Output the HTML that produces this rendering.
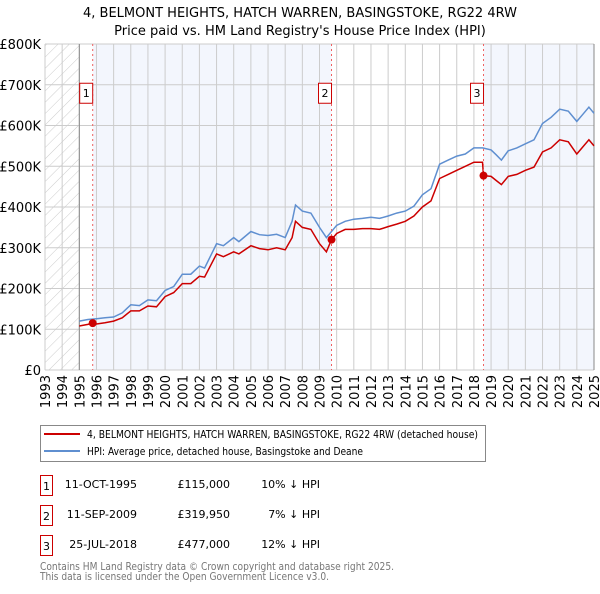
<!DOCTYPE html>
<html><head><meta charset="utf-8"><style>
body{margin:0;background:#fff;font-family:"DejaVu Sans","Liberation Sans",sans-serif;}
svg text{font-family:"DejaVu Sans","Liberation Sans",sans-serif;}
</style></head><body>
<svg id="chart" width="600" height="590" viewBox="0 0 600 590" xmlns="http://www.w3.org/2000/svg">
<defs><pattern id="hatch" width="8" height="8" patternUnits="userSpaceOnUse" patternTransform="rotate(45)"><line x1="0" y1="0" x2="0" y2="8" stroke="#ccc" stroke-width="1"/></pattern></defs>
<text x="300" y="17" text-anchor="middle" font-size="13" fill="#000">4, BELMONT HEIGHTS, HATCH WARREN, BASINGSTOKE, RG22 4RW</text>
<text x="300" y="35" text-anchor="middle" font-size="13" fill="#000">Price paid vs. HM Land Registry's House Price Index (HPI)</text>
<g id="bg"></g><g id="grid"></g><g id="axes"></g><g id="series"></g><g id="marks"></g>
<g>
<rect x="40.5" y="425.5" width="445" height="36" fill="#fff" stroke="#888"/>
<line x1="44" y1="434" x2="80" y2="434" stroke="#cc0000" stroke-width="2"/>
<text x="87" y="438" font-size="11" textLength="391" lengthAdjust="spacingAndGlyphs">4, BELMONT HEIGHTS, HATCH WARREN, BASINGSTOKE, RG22 4RW (detached house)</text>
<line x1="44" y1="451" x2="80" y2="451" stroke="#5f8fd0" stroke-width="2"/>
<text x="87" y="455" font-size="11" textLength="276" lengthAdjust="spacingAndGlyphs">HPI: Average price, detached house, Basingstoke and Deane</text>
</g>
<g font-size="11">
<rect x="40.5" y="475.5" width="12" height="20" fill="#fff" stroke="#cc0000"/><text x="46.5" y="490" text-anchor="middle">1</text>
<text x="137" y="488" text-anchor="end">11-OCT-1995</text><text x="230" y="488" text-anchor="end">£115,000</text><text x="320" y="488" text-anchor="end">10% ↓ HPI</text>
<rect x="40.5" y="505.5" width="12" height="20" fill="#fff" stroke="#cc0000"/><text x="46.5" y="520" text-anchor="middle">2</text>
<text x="137" y="518" text-anchor="end">11-SEP-2009</text><text x="230" y="518" text-anchor="end">£319,950</text><text x="320" y="518" text-anchor="end">7% ↓ HPI</text>
<rect x="40.5" y="535.5" width="12" height="20" fill="#fff" stroke="#cc0000"/><text x="46.5" y="550" text-anchor="middle">3</text>
<text x="137" y="548" text-anchor="end">25-JUL-2018</text><text x="230" y="548" text-anchor="end">£477,000</text><text x="320" y="548" text-anchor="end">12% ↓ HPI</text>
</g>
<text x="40" y="570" font-size="11" fill="#777" textLength="354" lengthAdjust="spacingAndGlyphs">Contains HM Land Registry data © Crown copyright and database right 2025.</text>
<text x="40" y="580" font-size="11" fill="#777" textLength="289" lengthAdjust="spacingAndGlyphs">This data is licensed under the Open Government Licence v3.0.</text>
</svg>
<script>
const hpiYears=[1995,1995.5,1996,1996.5,1997,1997.5,1998,1998.5,1999,1999.5,2000,2000.5,2001,2001.5,2002,2002.3,2003,2003.4,2004,2004.3,2005,2005.5,2006,2006.5,2007,2007.4,2007.6,2008,2008.5,2009,2009.4,2010,2010.5,2011,2011.5,2012,2012.5,2013,2013.5,2014,2014.5,2015,2015.5,2016,2016.5,2017,2017.5,2018,2018.5,2019,2019.3,2019.6,2020,2020.5,2021,2021.5,2022,2022.5,2023,2023.5,2024,2024.3,2024.7,2025];
const hpiValues=[120,124,126,128,130,140,160,158,172,170,195,205,235,235,255,250,310,305,325,315,340,332,330,333,325,365,405,390,385,350,325,355,365,370,372,375,372,378,385,390,402,430,445,505,515,525,530,545,545,540,528,515,538,545,555,565,605,620,640,635,610,625,645,630];
const ppYears=[1995,1995.5,1995.78,1996,1996.5,1997,1997.5,1998,1998.5,1999,1999.5,2000,2000.5,2001,2001.5,2002,2002.3,2003,2003.4,2004,2004.3,2005,2005.5,2006,2006.5,2007,2007.4,2007.6,2008,2008.5,2009,2009.4,2009.7,2010,2010.5,2011,2011.5,2012,2012.5,2013,2013.5,2014,2014.5,2015,2015.5,2016,2016.5,2017,2017.5,2018,2018.5,2018.56,2019,2019.3,2019.6,2020,2020.5,2021,2021.5,2022,2022.5,2023,2023.5,2024,2024.3,2024.7,2025];
const ppValues=[108,112,115,113,116,120,128,145,145,157,155,180,190,212,212,230,228,285,278,290,285,305,298,295,300,295,325,365,350,345,310,290,320,335,345,345,347,347,345,352,358,365,378,400,415,470,480,490,500,510,510,477,475,465,455,475,480,490,498,535,545,565,560,530,545,565,550];
const saleYears=[1995.78,2009.7,2018.56];
const saleValues=[115000,319950,477000];
const saleLabels=["1","2","3"];
const yTicks=[0,100,200,300,400,500,600,700,800];
const yTickLabels=["£0","£100K","£200K","£300K","£400K","£500K","£600K","£700K","£800K"];
const xTicks=[1993,1994,1995,1996,1997,1998,1999,2000,2001,2002,2003,2004,2005,2006,2007,2008,2009,2010,2011,2012,2013,2014,2015,2016,2017,2018,2019,2020,2021,2022,2023,2024,2025];

const X0=45,X1=594,Y0=370,Y1=44;
const xs=y=>X0+(y-1993)/(2025-1993)*(X1-X0);
const ys=v=>Y0-v/800*(Y0-Y1);
const NS="http://www.w3.org/2000/svg";
function mk(parent,tag,attrs){const e=document.createElementNS(NS,tag);for(const k in attrs)e.setAttribute(k,attrs[k]);document.getElementById(parent).appendChild(e);return e;}

let r=mk('bg','rect',{x:X0,y:Y1,width:xs(1995)-X0,height:Y0-Y1,fill:'url(#hatch)'});


r=mk('bg','rect',{x:xs(saleYears[0]),y:Y1,width:xs(saleYears[1])-xs(saleYears[0]),height:Y0-Y1,fill:'#f3f6fd'});


r=mk('bg','rect',{x:xs(saleYears[2]),y:Y1,width:X1-xs(saleYears[2]),height:Y0-Y1,fill:'#f3f6fd'});



yTicks.forEach((t,i)=>{
 const l=mk('grid','line',{x1:X0,x2:X1,y1:ys(t),y2:ys(t),stroke:'#ccc','stroke-width':1});
 
 
 const tx=mk('axes','text',{x:X0-4,y:ys(t)+5,'text-anchor':'end','font-size':13});
 tx.textContent=yTickLabels[i];
 
 
});
xTicks.forEach(t=>{
 const l=mk('grid','line',{x1:xs(t),x2:xs(t),y1:Y1,y2:Y0,stroke:'#ccc','stroke-width':1});
 
 
 const tx=mk('axes','text',{x:0,y:0,'text-anchor':'end','font-size':13,transform:`translate(${xs(t)+5},${Y0+5}) rotate(-90)`});
 tx.textContent=t;
 
 
});
let ax=mk('axes','line',{x1:xs(1995),x2:xs(1995),y1:Y1,y2:Y0,stroke:'#888'});


ax=mk('axes','line',{x1:X1,x2:X1,y1:Y1,y2:Y0,stroke:'#888'});



function path(yrs,vals){return yrs.map((y,i)=>(i?'L':'M')+xs(y).toFixed(1)+','+ys(vals[i]).toFixed(1)).join('');}
let p=mk('series','path',{d:path(hpiYears,hpiValues),fill:'none',stroke:'#5f8fd0','stroke-width':1.5});


p=mk('series','path',{d:path(ppYears,ppValues),fill:'none',stroke:'#cc0000','stroke-width':1.5});



saleYears.forEach((y,i)=>{
 const v=mk('marks','line',{x1:xs(y),x2:xs(y),y1:Y1,y2:Y0,stroke:'#f06060','stroke-dasharray':'2,3','stroke-width':1});
 
 
 const c=mk('marks','circle',{cx:xs(y),cy:ys(saleValues[i]/1000),r:4,fill:'#cc0000'});
 
 
 const b=mk('marks','rect',{x:xs(y)-13,y:ys(700)+0.5-2,width:13,height:20,fill:'#fff',stroke:'#cc0000'});
 
 
 const t=mk('marks','text',{x:xs(y)-6.5,y:ys(700)+12,'text-anchor':'middle','font-size':11});
 t.textContent=saleLabels[i];
 
 
});
</script>
</body></html>
